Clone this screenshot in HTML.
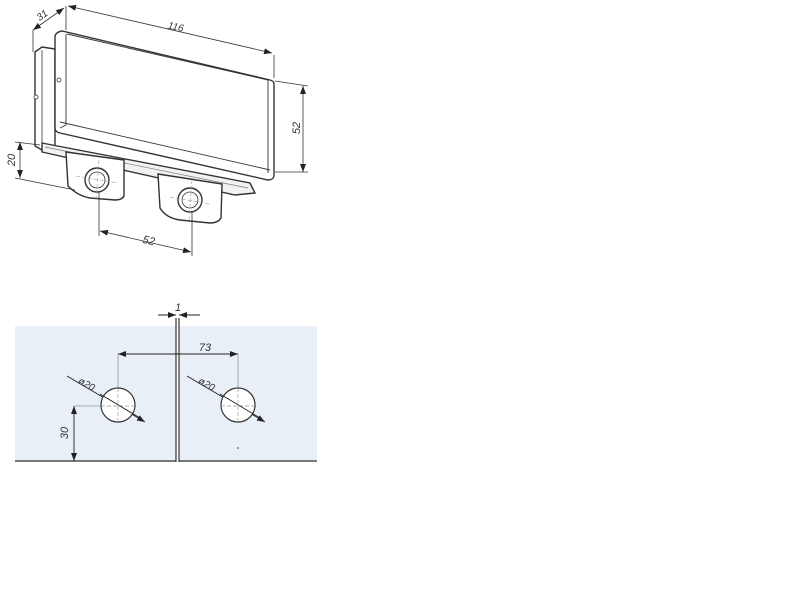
<!DOCTYPE html>
<html><head><style>
body{margin:0;background:#fff;}
svg{display:block;}
text{font-family:"Liberation Sans",sans-serif;font-style:italic;fill:#333;}
</style></head><body>
<svg width="800" height="600" viewBox="0 0 800 600" xmlns="http://www.w3.org/2000/svg">
<defs>
<marker id="a" markerWidth="8" markerHeight="6" refX="8" refY="3" orient="auto-start-reverse" markerUnits="userSpaceOnUse"><path d="M0,0 L8,3 L0,6z" fill="#222"/></marker>
</defs>
<g stroke="#333" fill="#fff" stroke-width="1.4">
<path d="M35,52 L42,47 L55,49 L55,148 L42,150 L35,146 Z"/>
<line x1="42" y1="50" x2="42" y2="148" stroke-width="0.8"/>
<path d="M42,143 L250,183 L255,193 L235,195 L42,152 Z" fill="#f2f2f2"/>
<line x1="45" y1="147" x2="248" y2="188" stroke-width="0.7" stroke="#777"/>
<path d="M66,152 L124,160 L124,196 Q122,200 115,200 L90,198 Q78,196 68,186 Z"/>
<path d="M158,174 L222,184 L221,218 Q218,223 210,223 L180,220 Q166,218 160,208 Z"/>
<circle cx="97" cy="180" r="12"/><circle cx="97" cy="180" r="8" stroke-width="0.8"/>
<circle cx="190" cy="200" r="12"/><circle cx="190" cy="200" r="8" stroke-width="0.8"/>
<path d="M55,36 Q56,32 62,31 L270,80 Q274,81 274,84 L274,176 Q273,180 268,180 L60,133 Q55,132 55,128 Z"/>
<path d="M67,34 L268,80 L268,173" fill="none" stroke-width="0.9"/>
<path d="M60,122 L270,170" fill="none" stroke-width="0.9"/>
<path d="M66,34 L66,125 L60,128" fill="none" stroke-width="0.9"/>
<circle cx="59" cy="80" r="2" stroke-width="0.8"/>
<circle cx="36" cy="97" r="2" stroke-width="0.8"/>
</g>
<g stroke="#999" stroke-width="0.6" stroke-dasharray="4,2">
<line x1="76" y1="176" x2="118" y2="183"/><line x1="99" y1="160" x2="96" y2="200"/>
<line x1="170" y1="197" x2="210" y2="204"/><line x1="192" y1="180" x2="189" y2="220"/>
</g>
<g stroke="#333" stroke-width="0.8" fill="none">
<line x1="66" y1="6" x2="66" y2="30"/><line x1="274" y1="55" x2="274" y2="78"/>
<line x1="68" y1="6" x2="272" y2="53" marker-start="url(#a)" marker-end="url(#a)"/>
<line x1="33" y1="30" x2="33" y2="52"/>
<line x1="33" y1="30" x2="64" y2="8" marker-start="url(#a)" marker-end="url(#a)"/>
<line x1="275" y1="81" x2="308" y2="86"/><line x1="275" y1="172" x2="308" y2="172"/>
<line x1="303" y1="86" x2="303" y2="172" marker-start="url(#a)" marker-end="url(#a)"/>
<line x1="15" y1="142" x2="40" y2="145"/><line x1="15" y1="178" x2="75" y2="190"/>
<line x1="20" y1="142" x2="20" y2="178" marker-start="url(#a)" marker-end="url(#a)"/>
<line x1="99" y1="192" x2="99" y2="236"/><line x1="192" y1="212" x2="192" y2="256"/>
<line x1="100" y1="231" x2="191" y2="252" marker-start="url(#a)" marker-end="url(#a)"/>
</g>
<text x="175" y="30" font-size="10" transform="rotate(13 175 30)" text-anchor="middle">116</text>
<text x="44" y="18" font-size="10" transform="rotate(-35 44 18)" text-anchor="middle">31</text>
<text x="300" y="128" font-size="11" transform="rotate(-90 300 128)" text-anchor="middle">52</text>
<text x="15" y="160" font-size="11" transform="rotate(-90 15 160)" text-anchor="middle">20</text>
<text x="148" y="244" font-size="11" transform="rotate(13 148 244)" text-anchor="middle">52</text>
<rect x="15" y="326" width="302" height="136" fill="#e9eff7"/>
<rect x="176" y="313" width="3" height="150" fill="#fff"/>
<g stroke="#333" stroke-width="1.2">
<line x1="176" y1="318" x2="176" y2="462"/><line x1="179" y1="318" x2="179" y2="462"/>
<line x1="15" y1="461" x2="176" y2="461"/><line x1="179" y1="461" x2="317" y2="461"/>
</g>
<g stroke="#222" stroke-width="0.9" fill="none">
<line x1="158" y1="315" x2="176" y2="315" marker-end="url(#a)"/>
<line x1="200" y1="315" x2="179" y2="315" marker-end="url(#a)"/>
<line x1="118" y1="354" x2="238" y2="354" marker-start="url(#a)" marker-end="url(#a)"/>
<line x1="74" y1="406" x2="74" y2="461" marker-start="url(#a)" marker-end="url(#a)"/>
<line x1="67" y1="376" x2="145" y2="422" marker-end="url(#a)"/>
<line x1="187" y1="376" x2="265" y2="422" marker-end="url(#a)"/>
</g>
<g stroke="#999" stroke-width="0.8" fill="none">
<line x1="118" y1="354" x2="118" y2="423"/><line x1="238" y1="354" x2="238" y2="423"/>
<line x1="74" y1="406" x2="136" y2="406"/><line x1="221" y1="406" x2="256" y2="406"/>
</g>
<circle cx="118" cy="405" r="17" fill="#fff" stroke="#333" stroke-width="1.2"/>
<circle cx="238" cy="405" r="17" fill="#fff" stroke="#333" stroke-width="1.2"/>
<g stroke="#999" stroke-width="0.7" stroke-dasharray="4,2">
<line x1="101" y1="406" x2="135" y2="406"/><line x1="118" y1="388" x2="118" y2="422"/>
<line x1="221" y1="406" x2="255" y2="406"/><line x1="238" y1="388" x2="238" y2="422"/>
</g>
<g stroke="#222" stroke-width="0.9"><line x1="100" y1="394" x2="140" y2="418"/><line x1="220" y1="394" x2="260" y2="418"/></g>
<text x="178" y="311" font-size="11" text-anchor="middle">1</text>
<text x="205" y="351" font-size="11" text-anchor="middle">73</text>
<text x="85" y="387" font-size="10" transform="rotate(30 85 387)" text-anchor="middle">ø20</text>
<text x="205" y="387" font-size="10" transform="rotate(30 205 387)" text-anchor="middle">ø20</text>
<text x="68" y="433" font-size="11" transform="rotate(-90 68 433)" text-anchor="middle">30</text>
<circle cx="238" cy="448" r="0.8" fill="#333"/>
</svg>
</body></html>
